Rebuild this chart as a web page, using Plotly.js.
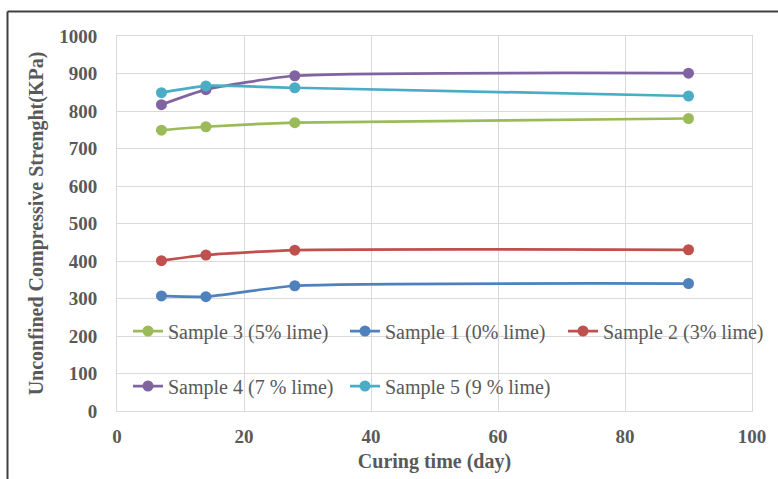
<!DOCTYPE html>
<html>
<head>
<meta charset="utf-8">
<script src="https://cdn.plot.ly/plotly-3.0.1.min.js"></script>
<style>
  html, body { margin: 0; padding: 0; background: #fff; }
  #chart { width: 778px; height: 479px; }
</style>
</head>
<body>
<div id="chart"></div>
<script>
// Data
const days = [7, 14, 28, 90];
const sample3 = [749, 758, 769, 780];   // 5% lime
const sample1 = [307, 305, 334, 340];   // 0% lime
const sample2 = [401, 416, 429, 430];   // 3% lime
const sample4 = [817, 857, 894, 901];   // 7 % lime
const sample5 = [849, 867, 862, 840];   // 9 % lime

const names = ['Sample 3 (5% lime)', 'Sample 1 (0% lime)', 'Sample 2 (3% lime)',
               'Sample 4 (7 % lime)', 'Sample 5 (9 % lime)'];
const colors = ['#9BBB59', '#4F81BD', '#C0504D', '#8064A2', '#4BACC6'];
const series = [sample3, sample1, sample2, sample4, sample5];
const legendIds = ['legend', 'legend', 'legend3', 'legend2', 'legend2'];

const xTicks = [0, 20, 40, 60, 80, 100];
const yTicks = [0, 100, 200, 300, 400, 500, 600, 700, 800, 900, 1000];

const traces = series.map((s, i) => ({
  x: days, y: s, name: names[i], type: 'scatter', mode: 'lines+markers',
  line: { color: colors[i], width: 2.75, shape: 'spline', smoothing: 0.5 },
  marker: { color: colors[i], size: 11 },
  legend: legendIds[i]
}));

const serif = 'Liberation Serif, Times New Roman, serif';
const tickFont = { family: serif, size: 19, color: '#595959', weight: 'bold' };
const titleFont = { family: serif, size: 20, color: '#595959', weight: 'bold' };
const legendFont = { family: serif, size: 20, color: '#595959' };

const L = 117, R = 26, T = 36, B = 68;
const W = 778, H = 479;
const pw = W - L - R, ph = H - T - B;
const px2x = p => (p - L) / pw;
const py2y = p => (H - B - p) / ph;

const legendBase = {
  orientation: 'h', xanchor: 'left', yanchor: 'middle',
  bgcolor: 'rgba(0,0,0,0)', font: legendFont, entrywidth: 172, entrywidthmode: 'pixels',
  traceorder: 'normal'
};

const layout = {
  width: W, height: H,
  margin: { l: L, r: R, t: T, b: B, autoexpand: false },
  paper_bgcolor: '#ffffff', plot_bgcolor: '#ffffff',
  showlegend: true,
  xaxis: {
    range: [0, 100], tickvals: xTicks, ticktext: xTicks.map(String),
    showgrid: true, gridcolor: '#d9d9d9', gridwidth: 1,
    showline: true, linecolor: '#d9d9d9', linewidth: 1, mirror: true,
    zeroline: false, ticks: '', tickfont: tickFont, ticklabelstandoff: 8,
    title: { text: 'Curing time (day)', font: titleFont, standoff: 8 }
  },
  yaxis: {
    range: [0, 1000], tickvals: yTicks, ticktext: yTicks.map(String),
    showgrid: true, gridcolor: '#d9d9d9', gridwidth: 1,
    showline: true, linecolor: '#d9d9d9', linewidth: 1, mirror: true,
    zeroline: false, ticks: '', tickfont: tickFont, ticklabelstandoff: 15,
    title: { text: 'Unconfined Compressive Strenght(KPa)', font: titleFont, standoff: 10 }
  },
  legend: Object.assign({}, legendBase, { x: px2x(128), y: py2y(331) }),
  legend3: Object.assign({}, legendBase, { x: px2x(563), y: py2y(331), entrywidth: 0 }),
  legend2: Object.assign({}, legendBase, { x: px2x(128), y: py2y(386) }),
  shapes: [
    { type: 'line', xref: 'paper', yref: 'paper', x0: px2x(7.5), x1: px2x(7.5), y0: py2y(11.5), y1: py2y(485), line: { color: '#404040', width: 2 } },
    { type: 'line', xref: 'paper', yref: 'paper', x0: px2x(7.5), x1: px2x(790), y0: py2y(11.5), y1: py2y(11.5), line: { color: '#404040', width: 2 } }
  ]
};

Plotly.newPlot('chart', traces, layout, { displayModeBar: false, staticPlot: true });
</script>
</body>
</html>
